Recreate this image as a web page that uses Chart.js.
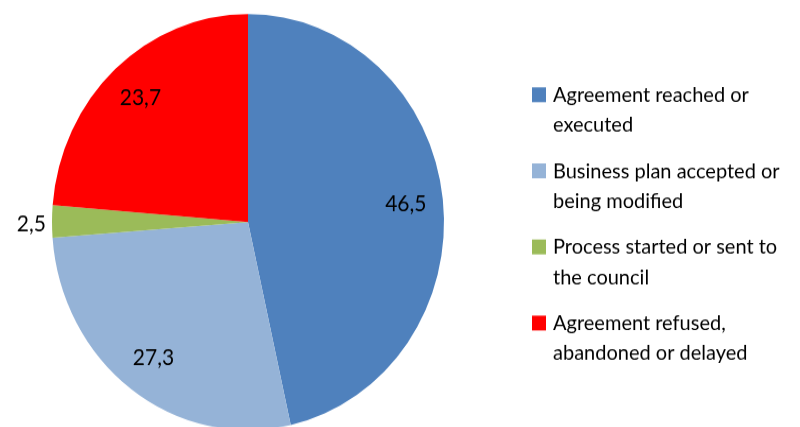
<!DOCTYPE html>
<html><head><meta charset="utf-8">
<script src="https://cdn.jsdelivr.net/npm/chart.js@4.4.1/dist/chart.umd.min.js"></script>
<style>
html,body{margin:0;padding:0;background:#fff;overflow:hidden}
#wrap{width:800px;height:427px;overflow:hidden;position:relative;background:#fff}
#c{position:absolute;left:0;top:0;transform-origin:0 0;transform:scale(1,1.0612)}
</style></head><body>
<div id="wrap"><canvas id="c" width="800" height="420" style="width:800px;height:420px"></canvas></div>
<script>
// ---- data ----
const categories = [
  ["Agreement reached or", "executed"],
  ["Business plan accepted or", "being modified"],
  ["Process started or sent to", "the council"],
  ["Agreement refused,", "abandoned or delayed"]
];
const values = [46.5, 27.3, 2.5, 23.7];
const colors = ["#4F81BD", "#95B3D7", "#9BBB59", "#FF0000"];

const fmt = v => String(v).replace('.', ',');

const valueLabels = {
  id: 'valueLabels',
  afterDatasetsDraw(chart) {
    const ctx = chart.ctx;
    const meta = chart.getDatasetMeta(0);
    const total = values.reduce((a, b) => a + b, 0);
    ctx.save();
    ctx.font = '21px Lato';
    ctx.fillStyle = '#000';
    ctx.textBaseline = 'middle';
    meta.data.forEach((arc, i) => {
      const p = arc.getProps(['x', 'y', 'startAngle', 'endAngle', 'outerRadius'], true);
      const mid = (p.startAngle + p.endAngle) / 2;
      const small = values[i] / total < 0.05;
      const r = small ? p.outerRadius + 6 : p.outerRadius * 0.81;
      const x = p.x + Math.cos(mid) * r;
      const y = p.y + Math.sin(mid) * r + (small ? 3 : 0);
      ctx.textAlign = small ? (Math.cos(mid) < 0 ? 'right' : 'left') : 'center';
      ctx.fillText(fmt(values[i]), x, y);
    });
    ctx.restore();
  }
};

const sideLegend = {
  id: 'sideLegend',
  afterDraw(chart) {
    const ctx = chart.ctx;
    const L = { boxX: 532, box: 14, textX: 553, firstBaseline: 95.8, itemGap: 71.7, lineGap: 28.3 };
    ctx.save();
    ctx.font = '20px Lato';
    ctx.textAlign = 'left';
    ctx.textBaseline = 'alphabetic';
    categories.forEach((lines, i) => {
      const base = L.firstBaseline + i * L.itemGap;
      ctx.fillStyle = colors[i];
      ctx.fillRect(L.boxX, base - 13.5, L.box, L.box);
      ctx.fillStyle = '#000';
      lines.forEach((t, j) => ctx.fillText(t, L.textX, base + j * L.lineGap));
    });
    ctx.restore();
  }
};

new Chart(document.getElementById('c'), {
  type: 'pie',
  data: {
    labels: categories,
    datasets: [{ data: values, backgroundColor: colors, borderWidth: 0 }]
  },
  options: {
    responsive: false,
    animation: false,
    devicePixelRatio: 1,
    layout: { padding: { left: 52, right: 356, top: 13.2, bottom: 14.8 } },
    plugins: { legend: { display: false }, tooltip: { enabled: false } }
  },
  plugins: [valueLabels, sideLegend]
});
</script>
</body></html>
